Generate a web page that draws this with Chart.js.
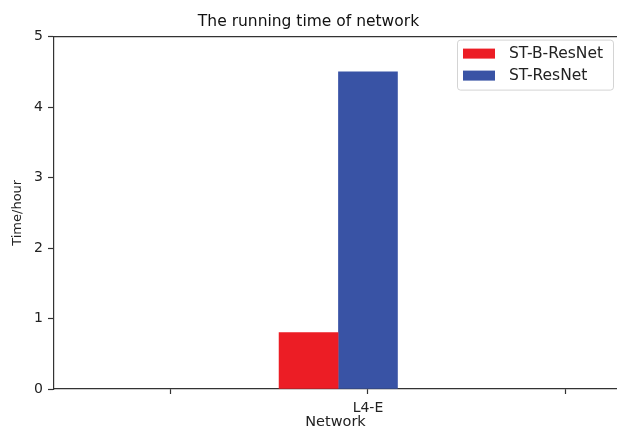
<!DOCTYPE html>
<html>
<head>
    <style>
        html, body { margin: 0; padding: 0; overflow: hidden; background: #fff; }
        canvas { display: block; }
    </style>
    <script src="https://cdn.jsdelivr.net/npm/chart.js"></script>
</head>
<body>
    <canvas id="runChart" width="617" height="427"></canvas>

    <script>
        // data
        const seriesNames = ['ST-B-ResNet', 'ST-ResNet'];
        const barPositions = [-0.3, 0];      // bar centres on the x axis (x - width, x)
        const timeValues = [0.8, 4.5];       // hours
        const xTickValues = [-1, 0, 1];
        const xTickLabels = ['', 'L4-E', ''];
        const yTickValues = [0, 1, 2, 3, 4, 5];
        const seriesColors = ['#ec1d25', '#3953a5'];

        const font = 'DejaVu Sans';

        // matplotlib-like legend box in the upper right corner
        const legendBox = {
            id: 'legendBox',
            afterDraw(chart) {
                const ctx = chart.ctx;
                const area = chart.chartArea;
                const w = 156, h = 50;
                const x = area.right - w - 4, y = area.top + 3;
                ctx.save();
                ctx.fillStyle = 'rgba(255,255,255,0.8)';
                ctx.strokeStyle = '#d4d4d4';
                ctx.lineWidth = 1;
                ctx.beginPath();
                ctx.roundRect(x + 0.5, y + 0.5, w, h, 3);
                ctx.fill();
                ctx.stroke();
                ctx.font = '15.5px "' + font + '"';
                ctx.textBaseline = 'middle';
                chart.data.datasets.forEach((ds, i) => {
                    const cy = y + 14 + i * 22;
                    ctx.fillStyle = ds.backgroundColor;
                    ctx.fillRect(x + 6, cy - 5, 32, 10);
                    ctx.fillStyle = '#222';
                    ctx.fillText(ds.label, x + 52, cy);
                });
                ctx.restore();
            }
        };

        // top spine
        const topSpine = {
            id: 'topSpine',
            afterDraw(chart) {
                const ctx = chart.ctx;
                const a = chart.chartArea;
                ctx.save();
                ctx.strokeStyle = '#333';
                ctx.lineWidth = 1.2;
                ctx.beginPath();
                ctx.moveTo(a.left, a.top);
                ctx.lineTo(a.right, a.top);
                ctx.stroke();
                ctx.restore();
            }
        };

        const ctx = document.getElementById('runChart').getContext('2d');
        new Chart(ctx, {
            type: 'bar',
            data: {
                datasets: seriesNames.map((name, i) => ({
                    label: name,
                    data: [{ x: barPositions[i], y: timeValues[i] }],
                    backgroundColor: seriesColors[i],
                    borderWidth: 0,
                    grouped: false,
                    barThickness: 59
                }))
            },
            options: {
                responsive: false,
                animation: false,
                layout: { padding: 0 },
                plugins: {
                    legend: { display: false },
                    tooltip: { enabled: false },
                    title: {
                        display: true,
                        text: 'The running time of network',
                        color: '#111',
                        font: { family: font, size: 15.5, weight: 'normal' },
                        padding: { top: 13, bottom: 5 }
                    }
                },
                scales: {
                    x: {
                        type: 'linear',
                        offset: false,
                        min: -1.586,
                        max: 1.258,
                        afterBuildTicks(scale) {
                            scale.ticks = xTickValues.map(v => ({ value: v }));
                        },
                        afterFit(scale) { scale.height = 38; },
                        ticks: {
                            color: '#222',
                            font: { family: font, size: 14 },
                            padding: 6,
                            callback: (v) => xTickLabels[xTickValues.indexOf(v)] ?? ''
                        },
                        grid: { drawOnChartArea: false, offset: false, tickLength: 5, color: '#333', tickWidth: 1.2 },
                        border: { display: true, color: '#333', width: 1.2 },
                        title: {
                            display: true,
                            text: 'Network',
                            color: '#222',
                            font: { family: font, size: 14.5 },
                            padding: { top: 0, bottom: -4 }
                        }
                    },
                    y: {
                        min: 0,
                        max: 5,
                        afterBuildTicks(scale) {
                            scale.ticks = yTickValues.map(v => ({ value: v }));
                        },
                        afterFit(scale) { scale.width = 54; },
                        ticks: {
                            color: '#222',
                            font: { family: font, size: 14 },
                            padding: 5
                        },
                        grid: { drawOnChartArea: false, tickLength: 6, color: '#333', tickWidth: 1.2 },
                        border: { display: true, color: '#333', width: 1.2 },
                        title: {
                            display: true,
                            text: 'Time/hour',
                            color: '#222',
                            font: { family: font, size: 13 },
                            padding: { top: 10, bottom: 0 }
                        }
                    }
                }
            },
            plugins: [legendBox, topSpine]
        });
    </script>
</body>
</html>
